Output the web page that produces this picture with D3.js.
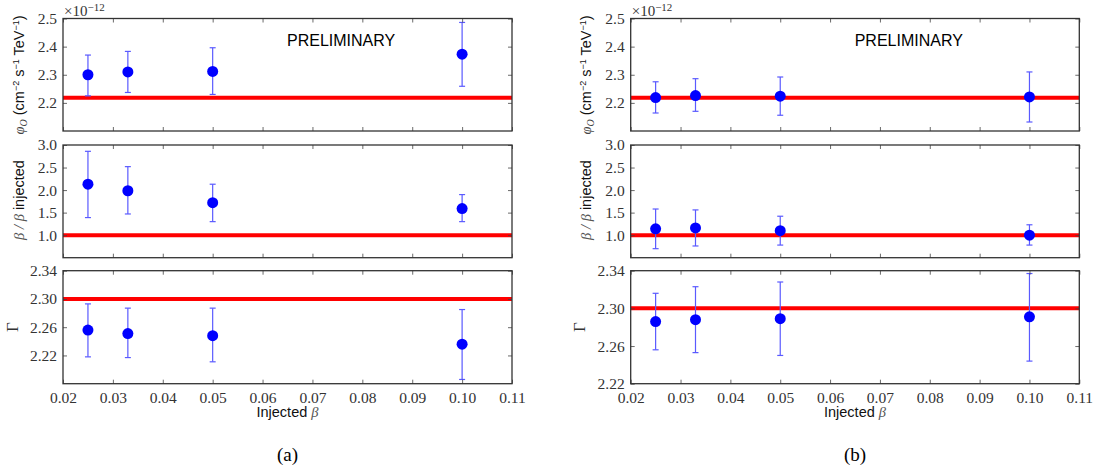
<!DOCTYPE html>
<html>
<head>
<meta charset="utf-8">
<script src="https://cdn.jsdelivr.net/npm/d3@7"></script>
<style>
  body { margin: 0; background: #fff; }
  svg { display: block; }
  .tick text { font-family: "Liberation Serif", serif; font-size: 15.5px; fill: #333; }
  .domain { display: none; }
  .tick line { stroke: #444; stroke-width: 0.8; }
</style>
</head>
<body>
<div id="chart"></div>
<script>
// injected beta values (x positions)
const betaInjected = [0.025, 0.033, 0.05, 0.10];
const xTicks = [0.02, 0.03, 0.04, 0.05, 0.06, 0.07, 0.08, 0.09, 0.10, 0.11];

// (a) flux normalisation, units of 1e-12
const phiA = [2.300, 2.310, 2.312, 2.373];
const phiALo = [2.225, 2.237, 2.230, 2.259];
const phiAHi = [2.370, 2.383, 2.396, 2.486];
// (a) fitted beta / injected beta
const ratioA = [2.13, 1.985, 1.72, 1.59];
const ratioALo = [1.39, 1.47, 1.30, 1.30];
const ratioAHi = [2.86, 2.52, 2.13, 1.90];
// (a) spectral index
const gammaA = [2.256, 2.251, 2.248, 2.236];
const gammaALo = [2.218, 2.217, 2.211, 2.186];
const gammaAHi = [2.293, 2.287, 2.287, 2.285];

// (b)
const phiB = [2.219, 2.226, 2.224, 2.221];
const phiBLo = [2.164, 2.170, 2.156, 2.132];
const phiBHi = [2.275, 2.286, 2.292, 2.310];
const ratioB = [1.14, 1.16, 1.10, 1.00];
const ratioBLo = [0.70, 0.76, 0.78, 0.78];
const ratioBHi = [1.58, 1.56, 1.42, 1.23];
const gammaB = [2.286, 2.288, 2.289, 2.291];
const gammaBLo = [2.256, 2.253, 2.250, 2.244];
const gammaBHi = [2.316, 2.323, 2.328, 2.337];

// true values (red lines)
const truePhi = 2.218;
const trueRatio = 1.0;
const trueGamma = 2.30;

const phiTicks = [2.2, 2.3, 2.4, 2.5];
const ratioTicks = [1.0, 1.5, 2.0, 2.5, 3.0];
const gammaTicks = [2.22, 2.26, 2.30, 2.34];

const width = 1095, height = 473;
const svg = d3.select("#chart").append("svg")
  .attr("width", width).attr("height", height);

const rows = [
  { top: 18.5, bottom: 131 },
  { top: 145, bottom: 257.7 },
  { top: 270.7, bottom: 383.7 }
];

function drawSub(left, right, row, domain, ticks, fmt, vals, lo, hi, trueVal, showX) {
  const x = d3.scaleLinear().domain([0.02, 0.11]).range([left, right]);
  const y = d3.scaleLinear().domain(domain).range([row.bottom, row.top]);
  const g = svg.append("g");

  // red reference line
  g.append("line")
    .attr("x1", x(0.02)).attr("x2", x(0.11))
    .attr("y1", y(trueVal)).attr("y2", y(trueVal))
    .attr("stroke", "#ff0000").attr("stroke-width", 4);

  // error bars
  const eb = g.append("g").attr("stroke", "#5a5aff").attr("stroke-width", 1.2);
  betaInjected.forEach((b, i) => {
    eb.append("line").attr("x1", x(b)).attr("x2", x(b)).attr("y1", y(lo[i])).attr("y2", y(hi[i]));
    [lo[i], hi[i]].forEach(v => {
      eb.append("line").attr("x1", x(b) - 3).attr("x2", x(b) + 3).attr("y1", y(v)).attr("y2", y(v));
    });
  });
  g.append("g").selectAll("circle").data(vals).join("circle")
    .attr("cx", (d, i) => x(betaInjected[i])).attr("cy", d => y(d))
    .attr("r", 5.5).attr("fill", "#0000ff");

  // axes with inward ticks
  g.append("g").attr("transform", `translate(0,${row.bottom})`)
    .call(d3.axisBottom(x).tickValues(xTicks).tickSize(-4).tickPadding(8)
      .tickFormat(showX ? d3.format(".2f") : ""));
  g.append("g").attr("transform", `translate(0,${row.top})`)
    .call(d3.axisTop(x).tickValues(xTicks).tickSize(-4).tickFormat(""));
  g.append("g").attr("transform", `translate(${left},0)`)
    .call(d3.axisLeft(y).tickValues(ticks).tickSize(-4).tickPadding(6).tickFormat(d3.format(fmt)));
  g.append("g").attr("transform", `translate(${right},0)`)
    .call(d3.axisRight(y).tickValues(ticks).tickSize(-4).tickFormat(""));

  g.append("rect")
    .attr("x", left).attr("y", row.top)
    .attr("width", right - left).attr("height", row.bottom - row.top)
    .attr("fill", "none").attr("stroke", "#333").attr("stroke-width", 1.3);
}

function yLabel(cx, cy) {
  return svg.append("text")
    .attr("transform", `translate(${cx},${cy}) rotate(-90)`)
    .attr("text-anchor", "middle")
    .style("font-family", "Liberation Sans, sans-serif")
    .style("font-size", "14.5px").attr("fill", "#111");
}

function drawPanel(left, right, data, caption, labelX) {
  drawSub(left, right, rows[0], [2.1, 2.5], phiTicks, ".1f", data.phi, data.phiLo, data.phiHi, truePhi, false);
  drawSub(left, right, rows[1], [0.5, 3.0], ratioTicks, ".1f", data.ratio, data.ratioLo, data.ratioHi, trueRatio, false);
  drawSub(left, right, rows[2], data.gammaDomain, gammaTicks, ".2f", data.gamma, data.gammaLo, data.gammaHi, trueGamma, true);

  // multiplier
  const m = svg.append("text").attr("x", left + 1).attr("y", 16)
    .style("font-family", "Liberation Serif, serif").style("font-size", "15px").attr("fill", "#333");
  m.append("tspan").text("×10");
  m.append("tspan").attr("dy", -5).style("font-size", "11px").text("−12");

  // PRELIMINARY
  svg.append("text").attr("x", left + 224).attr("y", 46)
    .style("font-family", "Liberation Sans, sans-serif").style("font-size", "16px")
    .attr("fill", "#000").text("PRELIMINARY");

  // y labels
  const l1 = yLabel(labelX, 75);
  l1.append("tspan").style("font-family", "Liberation Serif, serif").style("font-style", "italic").attr("fill", "#444").text("φ");
  l1.append("tspan").attr("dy", 3).style("font-family", "Liberation Serif, serif").style("font-style", "italic").style("font-size", "10px").attr("fill", "#444").text("O");
  l1.append("tspan").attr("dy", -3).text(" (cm");
  l1.append("tspan").attr("dy", -5).style("font-size", "9px").text("−2");
  l1.append("tspan").attr("dy", 5).text(" s");
  l1.append("tspan").attr("dy", -5).style("font-size", "9px").text("−1");
  l1.append("tspan").attr("dy", 5).text(" TeV");
  l1.append("tspan").attr("dy", -5).style("font-size", "9px").text("−1");
  l1.append("tspan").attr("dy", 5).text(")");

  const l2 = yLabel(labelX, 200);
  l2.append("tspan").style("font-family", "Liberation Serif, serif").style("font-style", "italic").attr("fill", "#555").text("β / β");
  l2.append("tspan").text(" injected");

  yLabel(labelX - 6, 327).style("font-family", "Liberation Serif, serif").style("font-size", "17px")
    .attr("fill", "#333").text("Γ");

  // x label
  const xl = svg.append("text").attr("x", (left + right) / 2).attr("y", 417)
    .attr("text-anchor", "middle")
    .style("font-family", "Liberation Sans, sans-serif").style("font-size", "14.5px").attr("fill", "#111");
  xl.append("tspan").text("Injected ");
  xl.append("tspan").style("font-family", "Liberation Serif, serif").style("font-style", "italic").attr("fill", "#555").text("β");

  svg.append("text").attr("x", (left + right) / 2).attr("y", 461)
    .attr("text-anchor", "middle")
    .style("font-family", "Liberation Serif, serif").style("font-size", "19px").attr("fill", "#000")
    .text(caption);
}

drawPanel(63, 512, {
  phi: phiA, phiLo: phiALo, phiHi: phiAHi,
  ratio: ratioA, ratioLo: ratioALo, ratioHi: ratioAHi,
  gamma: gammaA, gammaLo: gammaALo, gammaHi: gammaAHi,
  gammaDomain: [2.18, 2.34]
}, "(a)", 24);

drawPanel(630.7, 1079.3, {
  phi: phiB, phiLo: phiBLo, phiHi: phiBHi,
  ratio: ratioB, ratioLo: ratioBLo, ratioHi: ratioBHi,
  gamma: gammaB, gammaLo: gammaBLo, gammaHi: gammaBHi,
  gammaDomain: [2.22, 2.34]
}, "(b)", 591);
</script>
</body>
</html>
